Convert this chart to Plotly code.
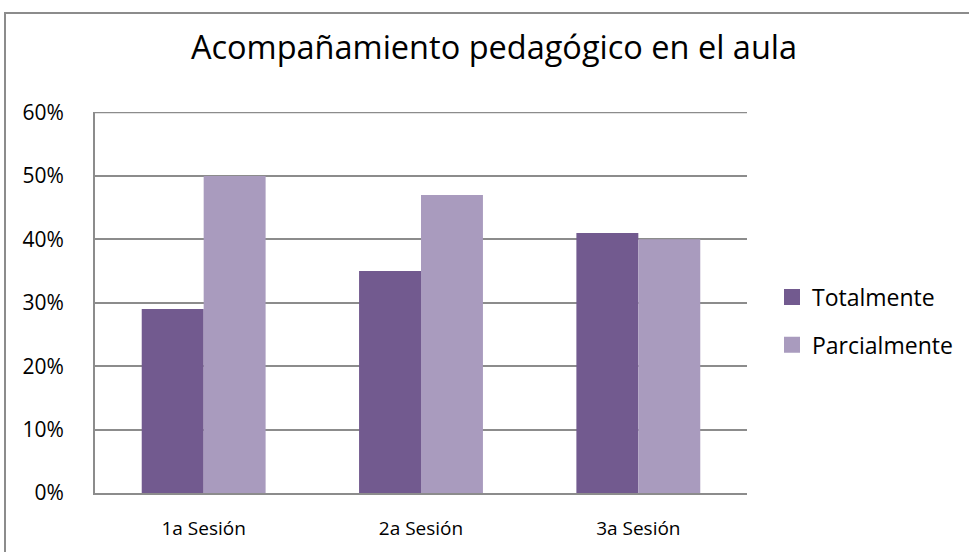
import plotly.graph_objects as go

categories = ["1a Sesión", "2a Sesión", "3a Sesión"]
totalmente = [0.29, 0.35, 0.41]
parcialmente = [0.50, 0.47, 0.40]
y_ticks = [0, 0.1, 0.2, 0.3, 0.4, 0.5, 0.6]
y_tick_labels = ["0%", "10%", "20%", "30%", "40%", "50%", "60%"]
series_names = ["Totalmente", "Parcialmente"]
series_colors = ["#725A8F", "#A99BBE"]

FONT = "Open Sans"
W, H = 969, 552
L, R, T, B = 95, 747, 112, 493
pw, ph = R - L, B - T
GRID = "#8C8C8C"

fig = go.Figure()
for name, vals, col in zip(series_names, [totalmente, parcialmente], series_colors):
    fig.add_trace(go.Bar(name=name, x=categories, y=vals, showlegend=False,
                         marker=dict(color=col, line=dict(width=0))))
for i, (name, col) in enumerate(zip(series_names, series_colors)):
    fig.add_trace(go.Scatter(name=name, x=[None], y=[None], mode="markers",
                             legendgroup="g%d" % i,
                             marker=dict(symbol="square", size=16, color=col,
                                         line=dict(width=0))))

def px_x(x):
    return (x - L) / pw

def px_y(y):
    return (B - y) / ph

fig.update_layout(
    width=W, height=H,
    margin=dict(l=L, r=W - R, t=T, b=H - B, pad=0, autoexpand=False),
    paper_bgcolor="white", plot_bgcolor="white",
    barmode="group", bargap=0.43, bargroupgap=0,
    font=dict(family=FONT, size=19, color="#000000"),
    title=dict(text="Acompañamiento pedagógico en el aula",
               x=494 / W, xanchor="center", xref="container",
               y=1 - 48 / H, yanchor="middle", yref="container",
               font=dict(family=FONT, size=32.5, color="#000000")),
    xaxis=dict(showgrid=False, showline=True, linecolor=GRID, linewidth=2,
               ticks="", tickfont=dict(size=19), ticklabelstandoff=17),
    yaxis=dict(range=[0, 0.6008], tickvals=y_ticks, ticktext=y_tick_labels,
               showgrid=True, gridcolor=GRID, gridwidth=1.5,
               showline=True, linecolor=GRID, linewidth=2,
               zeroline=False, ticks="", tickfont=dict(size=21), ticklabelstandoff=25),
    legend=dict(x=px_x(772), y=px_y(321), xanchor="left", yanchor="middle",
                font=dict(size=23), itemwidth=30, tracegroupgap=15,
                bgcolor="rgba(0,0,0,0)"),
    showlegend=True,
    shapes=[
        dict(type="rect", xref="paper", yref="paper",
             x0=px_x(5), x1=px_x(990), y0=px_y(575), y1=px_y(13),
             line=dict(color=GRID, width=2), fillcolor="rgba(0,0,0,0)",
             layer="below"),
        dict(type="line", xref="paper", yref="y",
             x0=0, x1=1, y0=y_ticks[-1], y1=y_ticks[-1],
             line=dict(color=GRID, width=1.5), layer="below"),
    ],
)

fig.write_html("out.html", config={"displayModeBar": False},
               post_script="document.body.style.margin='0';")
